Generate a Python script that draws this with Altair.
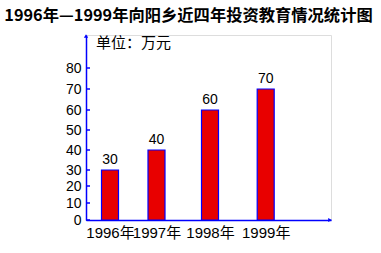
import altair as alt
import pandas as pd

years = [1996, 1997, 1998, 1999]
values = [30, 40, 60, 70]
tick_values = [0, 10, 20, 30, 40, 50, 60, 70, 80]
title_text = "1996年—1999年向阳乡近四年投资教育情况统计图"
unit_text = "单位：万元"

df = pd.DataFrame({"year": years, "value": values})
ticks_df = pd.DataFrame({"v": tick_values})
unit_df = pd.DataFrame({"t": [unit_text]})
one = pd.DataFrame({"a": [0]})

W, H = 245, 185
BLUE = "#0000ff"
LAB_FONT = "Liberation Sans, Noto Sans CJK SC"

yscale = alt.Scale(
    type="linear",
    domain=[0, 10, 20, 30, 40, 50, 60, 70, 80, 90],
    range=[185, 168, 151, 135, 115, 95, 75, 54, 33, 0],
    nice=False, zero=False,
)
xscale = alt.Scale(
    type="linear",
    domain=[1995, 1996, 1997, 1998, 1999, 2000],
    range=[0, 24, 70.5, 124, 179.7, 245],
    nice=False, zero=False,
)

xaxis = alt.Axis(
    values=years, labelExpr="datum.value + '年'", ticks=False, grid=False,
    domainColor=BLUE, domainWidth=1.5, labelFont=LAB_FONT, labelFontSize=15,
    labelColor="black", labelPadding=5, title=None, labelFlush=False,
    labelOverlap=False, labelBound=False,
)
yaxis = alt.Axis(
    values=tick_values, ticks=False, grid=False, domainColor=BLUE, domainWidth=1.5,
    labelFont=LAB_FONT, labelFontSize=14, labelColor="black", labelPadding=5,
    title=None, labelOverlap=False, labelBound=False, labelFlush=False,
)

X = alt.X("year:Q", scale=xscale, axis=xaxis)
Y = alt.Y("value:Q", scale=yscale, axis=yaxis)

bars = alt.Chart(df).mark_bar(
    size=17, color="#e80000", stroke=BLUE, strokeWidth=1.2
).encode(x=X, y=Y)

labels = alt.Chart(df).mark_text(
    baseline="bottom", dy=-3, font=LAB_FONT, fontSize=14, color="black"
).encode(x=X, y=Y, text=alt.Text("value:Q"))

tick_rules = alt.Chart(ticks_df).mark_rule(color=BLUE, strokeWidth=1.5).encode(
    y=alt.Y("v:Q", scale=yscale, axis=yaxis),
    x=alt.value(0),
    x2=alt.value(4),
)

unit = alt.Chart(unit_df).mark_text(
    align="left", baseline="middle", font="Noto Sans CJK SC", fontSize=15, color="black"
).encode(
    x=alt.value(10), y=alt.value(8), text="t:N"
)

arrow_up = alt.Chart(one).mark_point(
    shape="triangle-up", filled=True, size=18, color=BLUE, opacity=1
).encode(x=alt.value(0), y=alt.value(1))

arrow_right = alt.Chart(one).mark_point(
    shape="triangle-right", filled=True, size=18, color=BLUE, opacity=1
).encode(x=alt.value(244), y=alt.value(185))

chart = alt.layer(bars, labels, tick_rules, unit, arrow_up, arrow_right).properties(
    width=W, height=H,
    autosize=alt.AutoSizeParams(type="none"),
    padding={"left": 86, "top": 35, "right": 50, "bottom": 33},
    title=alt.TitleParams(
        text=title_text, anchor="middle", dx=-20, dy=18, fontSize=16.3, fontWeight="bold",
        font="Noto Sans CJK SC", color="black", offset=12, baseline="bottom",
    ),
).configure_view(stroke=None).configure(background="white")

chart.save("out.html", embed_options={"renderer": "svg", "actions": False})
